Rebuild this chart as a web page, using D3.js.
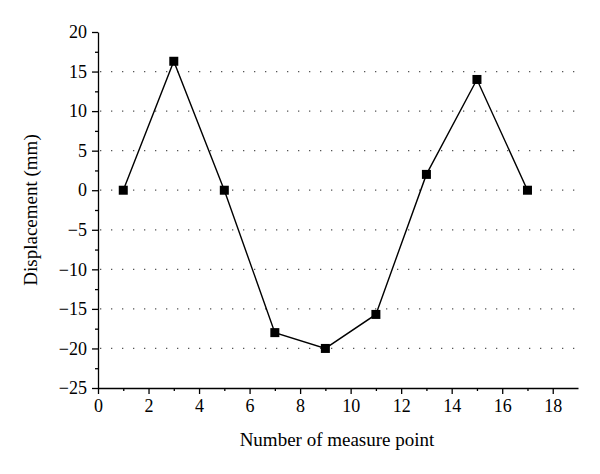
<!DOCTYPE html>
<html>
<head>
<meta charset="utf-8">
<script src="https://cdn.jsdelivr.net/npm/d3@7"></script>
<style>
  body { margin: 0; background: #fff; }
  text { font-family: "Liberation Serif", "DejaVu Serif", serif; fill: #000; }
</style>
</head>
<body>
<div id="container"></div>
<script>
// data
var points = [1, 3, 5, 7, 9, 11, 13, 15, 17];
var displacement = [0, 16.3, 0, -18, -20, -15.7, 2, 14, 0];
var xTicks = [0, 2, 4, 6, 8, 10, 12, 14, 16, 18];
var yTicks = [20, 15, 10, 5, 0, -5, -10, -15, -20, -25];
var gridValues = [15, 10, 5, 0, -5, -10, -15, -20];

var width = 600, height = 474;
var mLeft = 98, mRight = 578, mTop = 32, mBottom = 388;

var svg = d3.select("#container").append("svg")
  .attr("width", width)
  .attr("height", height);

var x = d3.scaleLinear().domain([0, 19]).range([mLeft, mRight]);
var y = d3.scaleLinear().domain([-25, 20]).range([mBottom, mTop]);

// dotted grid
svg.append("g").selectAll("line")
  .data(gridValues)
  .enter().append("line")
  .attr("x1", mLeft + 2)
  .attr("x2", mRight - 2)
  .attr("y1", function(d) { return y(d); })
  .attr("y2", function(d) { return y(d); })
  .attr("stroke", "#555")
  .attr("stroke-width", 1.3)
  .attr("stroke-dasharray", "1.3,9.7");

// minor ticks
svg.append("g")
  .attr("transform", "translate(0," + mBottom + ")")
  .call(d3.axisBottom(x).tickValues(d3.range(1, 19, 2)).tickSize(3).tickFormat(""))
  .call(function(g) { g.select(".domain").remove(); });
svg.append("g")
  .attr("transform", "translate(" + mLeft + ",0)")
  .call(d3.axisLeft(y).tickValues(d3.range(-22.5, 20, 5)).tickSize(3).tickFormat(""))
  .call(function(g) { g.select(".domain").remove(); });

// major axes
svg.append("g")
  .attr("transform", "translate(0," + mBottom + ")")
  .call(d3.axisBottom(x).tickValues(xTicks).tickSize(6).tickSizeOuter(0).tickPadding(5));
svg.append("g")
  .attr("transform", "translate(" + mLeft + ",0)")
  .call(d3.axisLeft(y).tickValues(yTicks).tickSize(6).tickSizeOuter(0).tickPadding(5)
    .tickFormat(function(d) { return d < 0 ? "\u2212" + Math.abs(d) : d; }));

svg.selectAll(".tick line, .domain").attr("stroke", "#000").attr("stroke-width", 1.3);
svg.selectAll(".tick text")
  .attr("fill", "#000")
  .style("font-size", "18px")
  .style("font-family", "Liberation Serif, serif");

// line
var line = d3.line()
  .x(function(d, i) { return x(points[i]); })
  .y(function(d) { return y(d); });

svg.append("path")
  .datum(displacement)
  .attr("d", line)
  .attr("fill", "none")
  .attr("stroke", "#000")
  .attr("stroke-width", 1.4);

// markers
var s = 9;
svg.append("g").selectAll("rect")
  .data(displacement)
  .enter().append("rect")
  .attr("x", function(d, i) { return x(points[i]) - s / 2; })
  .attr("y", function(d) { return y(d) - s / 2; })
  .attr("width", s)
  .attr("height", s)
  .attr("fill", "#000");

// titles
svg.append("text")
  .attr("x", 337)
  .attr("y", 446)
  .attr("text-anchor", "middle")
  .style("font-size", "19px")
  .text("Number of measure point");

svg.append("text")
  .attr("transform", "translate(37,210) rotate(-90)")
  .attr("text-anchor", "middle")
  .style("font-size", "19px")
  .text("Displacement (mm)");
</script>
</body>
</html>
